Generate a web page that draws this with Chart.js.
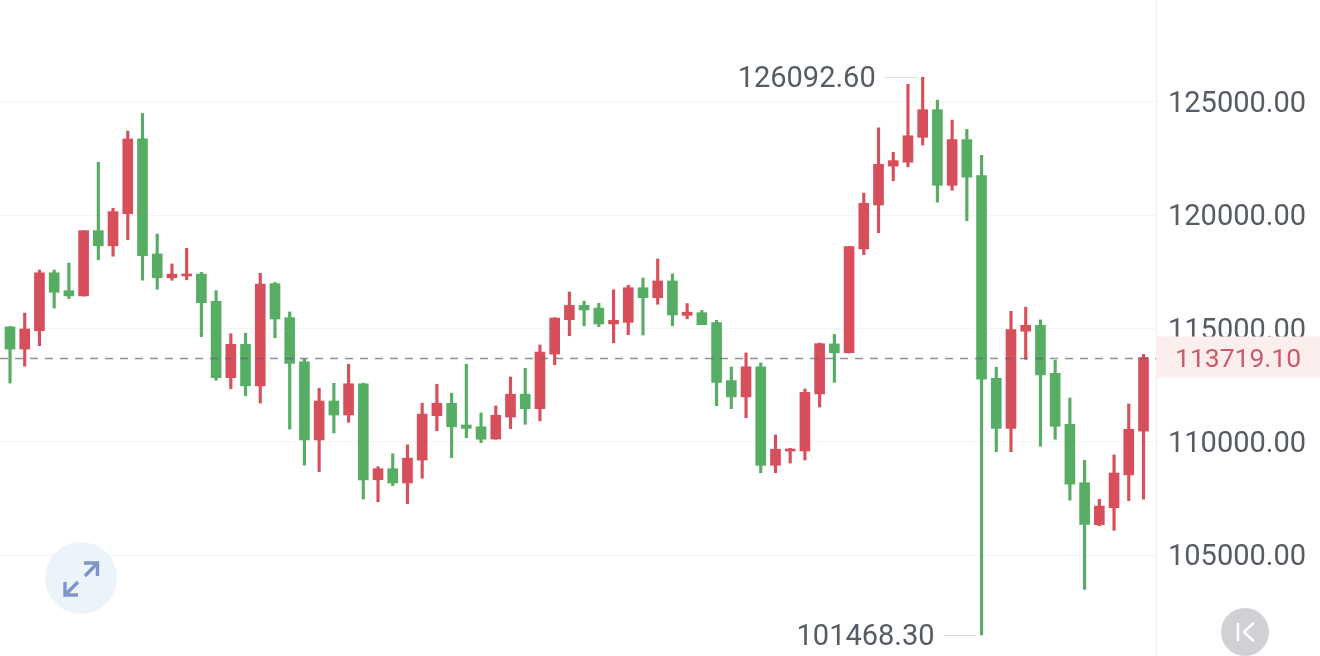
<!DOCTYPE html>
<html lang="en">
<head>
  <meta charset="UTF-8">
  <title>BTC Candlestick Chart</title>
  <script src="https://cdn.jsdelivr.net/npm/chart.js"></script>
  <style>
    html, body { margin: 0; padding: 0; background: #fff; overflow: hidden; }
    #wrap { position: relative; width: 1320px; height: 656px; }
    canvas { display: block; }
    .btn { position: absolute; }
  </style>
</head>
<body>
<div id="wrap">
  <canvas id="btcChart" width="1320" height="656"></canvas>
  <svg class="btn" style="left:45px;top:542px" width="72" height="72" viewBox="0 0 72 72">
    <circle cx="36" cy="36" r="36" fill="#edf3fb"/>
    <path d="M39 21H52.5V34M52 21.5L40 34M33 53H20V40M21 52L33 40" fill="none" stroke="#7d95c8" stroke-width="3.4"/>
  </svg>
  <svg class="btn" style="left:1221px;top:608px" width="48" height="48" viewBox="0 0 48 48">
    <circle cx="24" cy="24" r="24" fill="#cfd1d4"/>
    <path d="M17 16V32M32 15.5L23 24L32 32.5" fill="none" stroke="#fff" stroke-width="2.6" stroke-linecap="round" stroke-linejoin="round"/>
  </svg>
</div>

<script>
  const opens = [115070, 114090, 114900, 117460, 116670, 116440, 119320, 118650, 120070, 123370,
    118290, 117240, 117320, 117400, 116200, 112830, 114300, 112470, 116980, 115480,
    113530, 110080, 111800, 111180, 112560, 108320, 108810, 108180, 109190, 111150,
    111700, 110740, 110660, 110120, 111090, 112100, 111460, 113870, 115390, 116020,
    115900, 115200, 115270, 116800, 116360, 117100, 115580, 115700, 115260, 112700,
    111980, 113310, 108960, 109590, 109590, 112110, 114320, 113930, 118510, 120450,
    122170, 122340, 123440, 124660, 121320, 123340, 121750, 112800, 110590, 114880,
    115140, 113020, 110770, 108190, 106340, 107090, 108540, 110470];
  const highs = [115090, 115680, 117580, 117580, 117890, 119320, 122340, 120310, 123720, 124500,
    119170, 117850, 118540, 117480, 116670, 114770, 114790, 117440, 117040, 115730,
    113650, 112360, 112580, 113420, 112590, 108900, 109470, 109860, 111700, 112540,
    112140, 113420, 111270, 111580, 112860, 113240, 114270, 115480, 116610, 116210,
    116110, 116710, 116910, 117230, 118070, 117410, 116100, 115800, 115360, 113300,
    113920, 113480, 110300, 109710, 112330, 114360, 114740, 118620, 120980, 123860,
    122780, 125780, 126092.6, 125080, 124200, 123790, 122650, 113290, 115760, 115940,
    115380, 113600, 111930, 109180, 107460, 109420, 111670, 113860];
  const lows = [112590, 113340, 114240, 115900, 116320, 116430, 118040, 118190, 118920, 117130,
    116730, 117130, 117150, 114640, 112710, 112340, 112030, 111710, 114590, 110560,
    108970, 108680, 110390, 110860, 107470, 107350, 108060, 107270, 108390, 110490,
    109300, 110180, 109960, 110110, 110580, 110770, 110920, 113400, 114680, 115120,
    115080, 114370, 114730, 114710, 116070, 115120, 115430, 115160, 111590, 111460,
    111060, 108630, 108630, 109060, 109190, 111530, 112620, 113920, 118260, 119230,
    121520, 122140, 123100, 120580, 121100, 119760, 101468.3, 109560, 109560, 113640,
    109800, 110110, 107420, 103480, 106290, 106090, 107400, 107470];
  const closes = [114090, 114980, 117460, 116600, 116440, 119320, 118650, 120160, 123370, 118210,
    117240, 117400, 117400, 116140, 112830, 114300, 112470, 116960, 115420, 113460,
    110080, 111800, 111180, 112560, 108320, 108810, 108180, 109280, 111220, 111700,
    110660, 110590, 110110, 111170, 112100, 111460, 113960, 115460, 116020, 115820,
    115200, 115360, 116800, 116360, 117100, 115600, 115720, 115170, 112620, 111980,
    113310, 108960, 109670, 109680, 112180, 114330, 113930, 118620, 120530, 122250,
    122410, 123510, 124660, 121320, 123340, 121680, 112760, 110590, 114950, 115140,
    112950, 110680, 108130, 106350, 107160, 108620, 110550, 113719.1];
  const tickValues = [105000, 110000, 115000, 120000, 125000];
  const lastPrice = 113719.1;

  const RED = '#d84f5c';
  const GREEN = '#57ad63';
  const TICK_FONT = 'Roboto';

  const colors = closes.map((c, i) => (c >= opens[i] ? RED : GREEN));

  // high/low captions, the dashed last price line and the price tag
  const overlayPlugin = {
    id: 'overlay',
    afterDraw(chart) {
      const { ctx, scales: { x, y }, chartArea } = chart;
      const priceY = y.getPixelForValue(lastPrice);

      ctx.save();
      ctx.strokeStyle = 'rgba(95, 98, 108, 0.7)';
      ctx.lineWidth = 1.3;
      ctx.setLineDash([8, 7]);
      ctx.beginPath();
      ctx.moveTo(chartArea.left, Math.round(priceY) + 0.5);
      ctx.lineTo(chartArea.right, Math.round(priceY) + 0.5);
      ctx.stroke();
      ctx.setLineDash([]);

      ctx.fillStyle = '#fdeeee';
      ctx.fillRect(chartArea.right, priceY - 21, 1320 - chartArea.right, 41);
      ctx.fillStyle = '#c95a68';
      ctx.font = '400 26.5px ' + TICK_FONT;
      ctx.textAlign = 'left';
      ctx.textBaseline = 'middle';
      ctx.fillText(lastPrice.toFixed(2), 1175, priceY + 3);

      const captions = [
        [Math.max(...highs), highs],
        [Math.min(...lows), lows]
      ];
      ctx.font = '400 29px ' + TICK_FONT;
      ctx.textAlign = 'right';
      ctx.lineWidth = 1;
      captions.forEach(([value, list]) => {
        const px = x.getPixelForValue(list.indexOf(value));
        const py = y.getPixelForValue(value);
        ctx.strokeStyle = '#dcdde0';
        ctx.beginPath();
        ctx.moveTo(px - 38, Math.round(py) + 0.5);
        ctx.lineTo(px - 6, Math.round(py) + 0.5);
        ctx.stroke();
        ctx.fillStyle = '#565c64';
        ctx.fillText(value.toFixed(2), px - 47, py + 3);
      });
      ctx.restore();
    }
  };

  const ctx = document.getElementById('btcChart').getContext('2d');

  new Chart(ctx, {
    type: 'bar',
    data: {
      datasets: [
        {
          data: highs.map((h, i) => ({ x: i, y: [lows[i], h] })),
          backgroundColor: colors,
          barThickness: 2.5
        },
        {
          data: opens.map((o, i) => ({ x: i, y: [o, closes[i]] })),
          backgroundColor: colors,
          barThickness: 10,
          minBarLength: 2
        }
      ]
    },
    options: {
      responsive: false,
      animation: false,
      grouped: false,
      layout: { padding: 0 },
      plugins: {
        legend: { display: false },
        tooltip: { enabled: false }
      },
      scales: {
        x: {
          type: 'linear',
          min: -0.68,
          max: 77.85,
          offset: false,
          display: false
        },
        y: {
          position: 'right',
          min: 100541,
          max: 129503,
          afterBuildTicks(scale) { scale.ticks = tickValues.map(value => ({ value })); },
          afterFit(scale) {
            scale.width = 164;
            scale.paddingTop = 0;
            scale.paddingBottom = 0;
          },
          grid: { color: '#f3f4f6', drawTicks: false },
          border: { color: '#eeeff1' },
          ticks: {
            padding: 12,
            color: '#565c64',
            // blank first line nudges the label down about 3px
            font: { family: TICK_FONT, size: 29, weight: '400', lineHeight: 0.2 },
            callback: value => ['', value.toFixed(2)]
          }
        }
      }
    },
    plugins: [overlayPlugin]
  });
</script>
</body>
</html>
